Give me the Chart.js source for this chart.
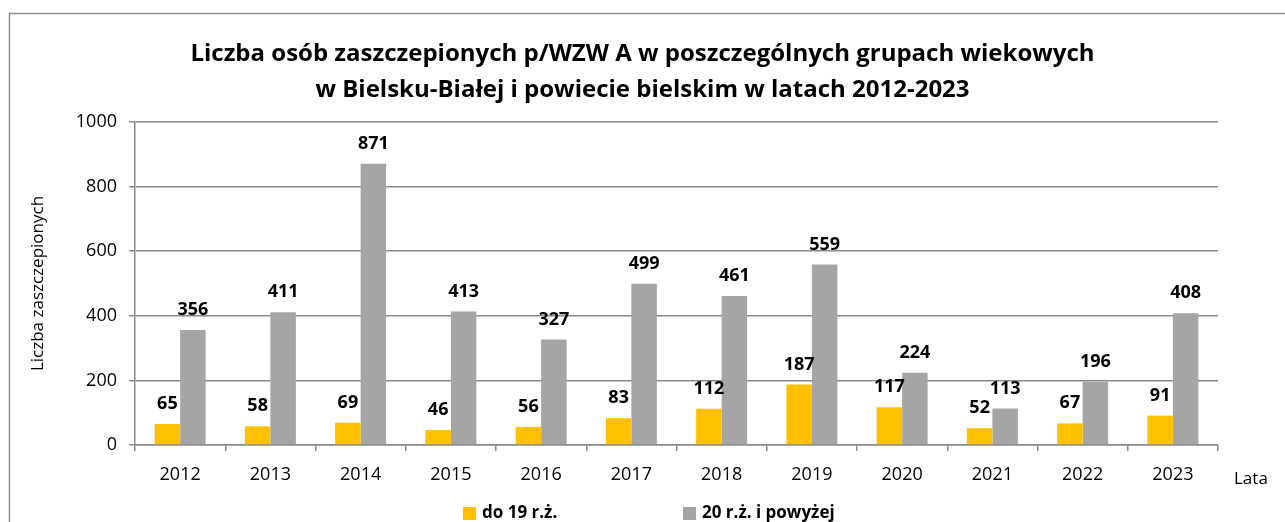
<!DOCTYPE html>
<html>
<head>
<meta charset="utf-8">
<script src="https://cdn.jsdelivr.net/npm/chart.js@4"></script>
<style>
  html, body { margin: 0; padding: 0; background: #fff; }
  #wrap { width: 1285px; height: 522px; }
</style>
</head>
<body>
<div id="wrap"><canvas id="vacc"></canvas></div>
<script>
// Dane z wykresu
const years = ["2012", "2013", "2014", "2015", "2016", "2017", "2018", "2019", "2020", "2021", "2022", "2023"];
const young = [65, 58, 69, 46, 56, 83, 112, 187, 117, 52, 67, 91];      // do 19 r.ż.
const adults = [356, 411, 871, 413, 327, 499, 461, 559, 224, 113, 196, 408]; // 20 r.ż. i powyżej
const yTicks = [0, 200, 400, 600, 800, 1000];

const FONT = '"Open Sans", sans-serif';
const GRID = '#8a8a8a';

// podpisy nad słupkami, ramka, legenda i "Lata"
const extras = {
    id: 'extras',
    beforeDraw(chart) {
        const c = chart.ctx;
        c.save();
        c.strokeStyle = '#8e8e8e';
        c.lineWidth = 1.5;
        c.strokeRect(9.5, 13.5, 2000, 2000);
        c.restore();
    },
    afterDatasetsDraw(chart) {
        const c = chart.ctx;
        c.save();
        c.font = 'bold 18px ' + FONT;
        c.fillStyle = '#000';
        c.textAlign = 'center';
        c.textBaseline = 'bottom';
        chart.data.datasets.forEach((ds, i) => {
            chart.getDatasetMeta(i).data.forEach((bar, j) => {
                c.fillText(ds.data[j], bar.x, bar.y - 11);
            });
        });
        c.restore();
    },
    afterDraw(chart) {
        const c = chart.ctx;
        c.save();
        // tytuł osi X
        c.font = '17px ' + FONT;
        c.fillStyle = '#000';
        c.textAlign = 'left';
        c.textBaseline = 'middle';
        c.fillText('Lata', 1234, 479);
        // legenda
        const items = [
            { text: 'do 19 r.ż.', color: '#FFC000', x: 463 },
            { text: '20 r.ż. i powyżej', color: '#A5A5A5', x: 683 }
        ];
        c.font = 'bold 17px ' + FONT;
        items.forEach(it => {
            c.fillStyle = it.color;
            c.fillRect(it.x, 507, 13, 13);
            c.fillStyle = '#000';
            c.fillText(it.text, it.x + 19, 513);
        });
        c.restore();
    }
};

new Chart(document.getElementById('vacc'), {
    type: 'bar',
    data: {
        labels: years,
        datasets: [
            {
                label: 'do 19 r.ż.',
                data: young,
                backgroundColor: '#FFC000',
                categoryPercentage: 0.565,
                barPercentage: 1.0
            },
            {
                label: '20 r.ż. i powyżej',
                data: adults,
                backgroundColor: '#A5A5A5',
                categoryPercentage: 0.565,
                barPercentage: 1.0
            }
        ]
    },
    options: {
        responsive: true,
        maintainAspectRatio: false,
        animation: false,
        layout: { padding: { left: 0, right: 0, top: 0, bottom: 25 } },
        plugins: {
            legend: { display: false },
            tooltip: { enabled: false },
            title: {
                display: true,
                text: ['Liczba osób zaszczepionych p/WZW A w poszczególnych grupach wiekowych',
                       'w Bielsku-Białej i powiecie bielskim w latach 2012-2023'],
                color: '#000',
                font: { family: FONT, size: 24, weight: 'bold', lineHeight: 36 / 24 },
                padding: { top: 36, bottom: 14 }
            }
        },
        scales: {
            x: {
                afterFit(scale) { scale.height = 52; },
                grid: {
                    offset: true,
                    drawOnChartArea: false,
                    drawTicks: true,
                    tickLength: 6,
                    color: GRID,
                    lineWidth: 1.5
                },
                border: { display: true, color: GRID, width: 1.5 },
                ticks: { color: '#000', font: { family: FONT, size: 18 }, padding: 13 }
            },
            y: {
                min: 0,
                max: 1000,
                afterFit(scale) { scale.width = 135; },
                afterBuildTicks(scale) { scale.ticks = yTicks.map(v => ({ value: v })); },
                grid: { color: GRID, lineWidth: 1.5, tickLength: 6 },
                border: { display: true, color: GRID, width: 1.5 },
                ticks: {
                    color: '#000',
                    font: { family: FONT, size: 18 },
                    padding: 12,
                    callback: v => String(v)
                },
                title: {
                    display: true,
                    text: 'Liczba zaszczepionych',
                    color: '#000',
                    font: { family: FONT, size: 17 },
                    padding: { top: 28 }
                }
            },
            // pusta oś po prawej - tylko rezerwuje miejsce na "Lata"
            yRight: {
                position: 'right',
                afterFit(scale) { scale.width = 67; },
                ticks: { display: false },
                grid: { display: false },
                border: { display: false }
            }
        }
    },
    plugins: [extras]
});
</script>
</body>
</html>
